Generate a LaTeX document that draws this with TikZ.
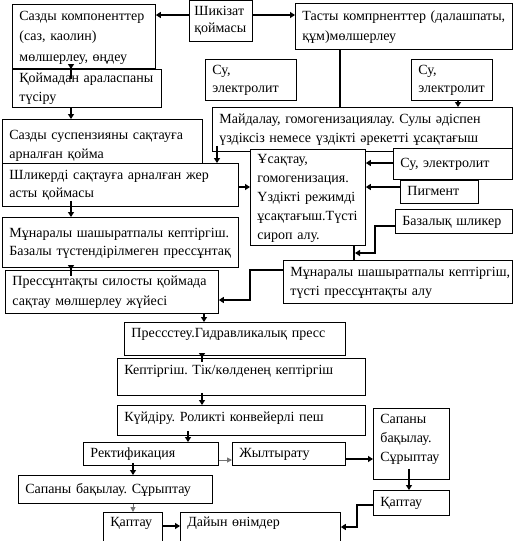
\documentclass[tikz,border=0pt]{standalone}
\usepackage{fontspec}
\setmainfont{Liberation Serif}
\usetikzlibrary{arrows.meta,calc}
\newcommand\lns[1]{\begin{tabular}{@{}l@{}}#1\end{tabular}}
\frenchspacing
\begin{document}
\begin{tikzpicture}[x=1pt,y=-1pt,
  box/.style={draw, line width=0.8pt, fill=white, anchor=north west, inner xsep=7pt, inner ysep=0pt, font=\fontsize{14}{19}\selectfont\frenchspacing},
  arr/.style={line width=1.6pt, -{Triangle[length=5pt,width=6pt]}},
  lnk/.style={line width=1.6pt},
  garr/.style={line width=1pt, draw=black!55, fill=black!55, -{Triangle[length=5pt,width=5pt]}}]
\useasboundingbox (0,0) rectangle (513,541);
\clip (0,0) rectangle (513,541);
% nodes
\node[box, text width=53pt, inner xsep=5pt, minimum height=41pt, font=\fontsize{14}{17}\selectfont] (shk) at (189,0) {\lns{Шикізат\\қоймасы}};
\node[box, text width=129pt, minimum height=64pt, font=\fontsize{14}{20.5}\selectfont] (a) at (12,4) {\lns{Сазды компоненттер\\(саз, каолин)\\мөлшерлеу, өңдеу}};
\node[box, text width=203pt, minimum height=46pt, font=\fontsize{14}{20}\selectfont] (tas) at (295,3) {\lns{Тасты компрненттер (далашпаты,\\құм)мөлшерлеу}};
\node[box, text width=135pt, minimum height=38pt] (b) at (12,69) {\lns{Қоймадан араласпаны\\түсіру}};
\node[box, text width=77pt, minimum height=41pt, font=\fontsize{14}{18}\selectfont] (k1) at (205,59) {\lns{Су,\\электролит}};
\node[box, text width=67pt, minimum height=41pt, font=\fontsize{14}{18}\selectfont] (k2) at (411,59) {\lns{Су,\\электролит}};
\node[box, text width=286pt, minimum height=44pt] (j) at (212,107) {\lns{Майдалау, гомогенизациялау. Сулы әдіспен\\үздіксіз немесе үздікті әрекетті ұсақтағыш}};
\node[box, text width=186pt, minimum height=40pt, text height=29pt] (c) at (2,119) {\lns{Сазды суспензияны сақтауға\\арналған қойма}};
\node[box, text width=222pt, minimum height=43pt, font=\fontsize{14}{18}\selectfont] (d) at (2,163) {\lns{Шликерді сақтауға арналған жер\\асты қоймасы}};
\node[box, text width=222pt, minimum height=50pt, font=\fontsize{14}{18}\selectfont] (e) at (2,217) {\lns{Мұнаралы шашыратпалы кептіргіш.\\Базалы түстендірілмеген прессұнтақ}};
\node[box, text width=199pt, minimum height=43pt, font=\fontsize{14}{20}\selectfont] (f) at (5,270) {\lns{Прессұнтақты силосты қоймада\\сақтау мөлшерлеу жүйесі}};
\node[box, text width=101pt, minimum height=96pt] (h) at (250,149) {\lns{Ұсақтау,\\гомогенизация.\\Үздікті режимді\\ұсақтағыш.Түсті\\сироп алу.}};
\node[box, text width=105pt, minimum height=31pt] (i1) at (393,148) {\lns{Су, электролит}};
\node[box, text width=64pt, minimum height=23pt] (i2) at (400,180) {\lns{Пигмент}};
\node[box, text width=103pt, minimum height=24pt] (i3) at (395,209) {\lns{Базалық шликер}};
\node[box, text width=215pt, minimum height=43pt] (g) at (283,260) {\lns{Мұнаралы шашыратпалы кептіргіш,\\түсті прессұнтақты алу}};
\node[box, text width=207pt, minimum height=33pt, text depth=16pt] (l) at (124,322) {\lns{Прессстеу.Гидравликалық пресс}};
\node[box, text width=234pt, minimum height=37pt, text depth=18pt] (m) at (117,358) {\lns{Кептіргіш. Тік/көлденең кептіргіш}};
\node[box, text width=234pt, minimum height=30pt, text depth=12pt] (n) at (117,405) {\lns{Күйдіру. Роликті конвейерлі пеш}};
\node[box, text width=121pt, minimum height=23pt] (o) at (83,442) {\lns{Ректификация}};
\node[box, text width=99pt, minimum height=23pt] (p) at (232,442) {\lns{Жылтырату}};
\node[box, text width=62pt, minimum height=71pt, text depth=35pt] (q) at (373,408) {\lns{Сапаны\\бақылау.\\Сұрыптау}};
\node[box, text width=62pt, minimum height=25pt] (r) at (373,490) {\lns{Қаптау}};
\node[box, text width=180pt, minimum height=28pt] (s) at (18,475) {\lns{Сапаны бақылау. Сұрыптау}};
\node[box, text width=45pt, minimum height=40pt, font=\fontsize{14}{20}\selectfont] (u) at (103,512) {\lns{Қаптау\\\mbox{}}};
\node[box, text width=146pt, minimum height=40pt, font=\fontsize{14}{20}\selectfont] (t) at (180,512) {\lns{Дайын өнімдер\\\mbox{}}};
% helper coordinates
\foreach \xx in {71,133,188,202,204,217,250,340,354,357,375,409,458}{\coordinate (x\xx) at (\xx,0);}
\foreach \yy in {15,163,187,226,253,270,300,459,460,505,526,527}{\coordinate (y\yy) at (0,\yy);}
% connectors
\draw[arr] (shk.west |- y15) -- (a.east |- y15);
\draw[arr] (shk.east |- y15) -- (tas.west |- y15);
\draw[arr, shorten <=-10pt] (a.south -| x71) -- (b.north -| x71);
\draw[arr] (b.south -| x71) -- (c.north -| x71);
\draw[lnk] (tas.south -| x340) -- (j.north -| x340);
\draw[arr] (k2.south -| x458) -- (j.north -| x458);
\draw[arr, shorten <=-6pt] (j.south -| x217) -- (d.north -| x217);
\draw[arr] (d.east |- y187) -- (h.west |- y187);
\draw[arr, shorten <=-6pt] (d.south -| x71) -- (e.north -| x71);
\draw[arr, shorten <=-8pt] (e.south -| x71) -- (f.north -| x71);
\draw[arr] (i1.west |- y163) -- (h.east |- y163);
\draw[arr] (i2.west |- y187) -- (h.east |- y187);
\draw[lnk] (h.south -| x354) -- (g.north -| x354);
\coordinate (jn) at (355,253);
\draw[arr] (i3.west |- y226) -| (x375 |- jn) -- (jn);
\draw[arr] (g.west |- y270) -| (x250 |- y300) -- (f.east |- y300);
\draw[arr] (f.south -| x204) -- (l.north -| x204);
\draw[arr, shorten <=-6pt] (l.south -| x202) -- (m.north -| x202);
\draw[arr, shorten <=-3pt] (m.south -| x202) -- (n.north -| x202);
\draw[arr, shorten <=-5pt] (n.south -| x188) -- (o.north -| x188);
\draw[garr] (o.east |- y460) -- (p.west |- y460);
\draw[arr] (p.east |- y459) -- (q.west |- y459);
\draw[arr, shorten <=-11pt] (q.south -| x409) -- (r.north -| x409);
\draw[arr] (r.west |- y505) -| (x357 |- y527) -- (t.east |- y527);
\draw[arr, shorten <=-3pt] (o.south -| x133) -- (s.north -| x133);
\draw[garr] (s.south -| x133) -- (u.north -| x133);
\draw[arr] (u.east |- y526) -- (t.west |- y526);
\end{tikzpicture}
\end{document}
